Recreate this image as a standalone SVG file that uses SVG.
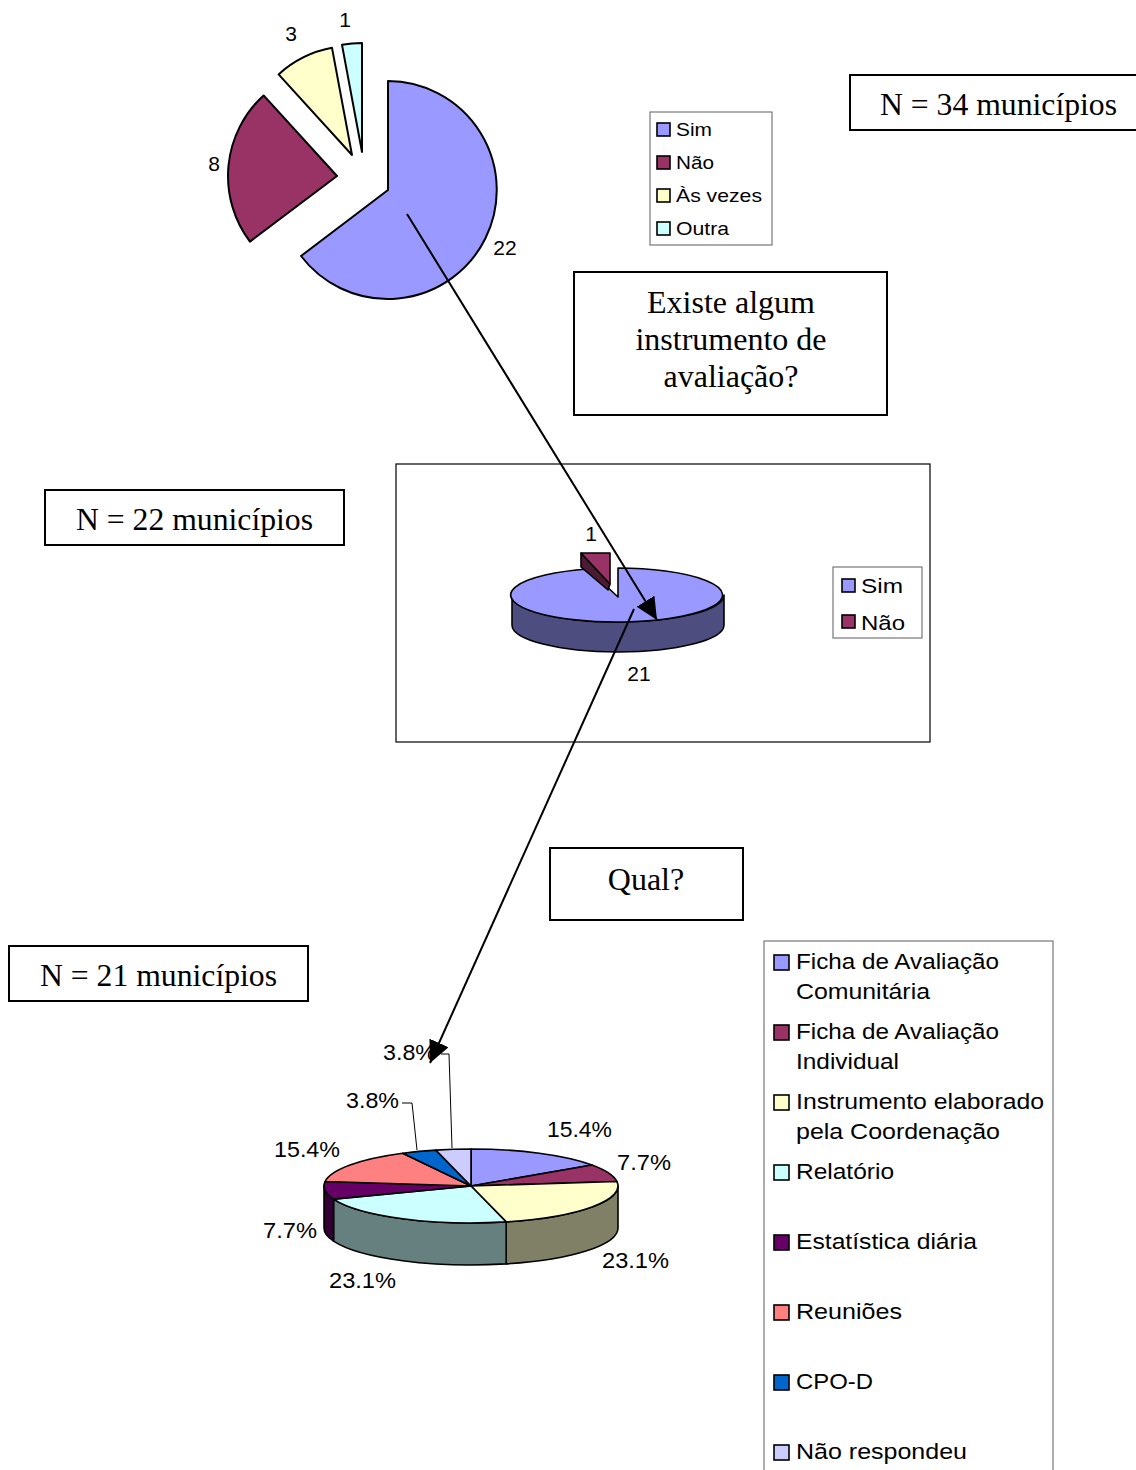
<svg xmlns="http://www.w3.org/2000/svg" width="1136" height="1470" viewBox="0 0 1136 1470">
<style>
.sans{font-family:"Liberation Sans",Arial,sans-serif;fill:#000}
.serif{font-family:"Liberation Serif","Times New Roman",serif;fill:#000;font-size:32px}
.box{fill:#fff;stroke:#000;stroke-width:2}
.leg{fill:#fff;stroke:#777;stroke-width:1.2}
.sq{stroke:#000;stroke-width:1.6}
.sl{stroke:#000;stroke-width:2;stroke-linejoin:round}
.sl3{stroke:#000;stroke-width:1.6;stroke-linejoin:round}
.conn{stroke:#000;stroke-width:2;fill:none}
.lead{stroke:#000;stroke-width:1;fill:none}
</style>
<defs>
<marker id="ah" markerUnits="userSpaceOnUse" markerWidth="23" markerHeight="21" refX="22" refY="10.5" orient="auto">
<path d="M0,0 L22,10.5 L0,21 Z" fill="#000"/>
</marker>
</defs>
<rect width="1136" height="1470" fill="#fff"/>

<!-- Top pie chart -->
<g id="pie-top">
<path class="sl" fill="#9999FF" d="M388,190 L388,81 A109,109 0 1 1 301,256 Z"/>
<path class="sl" fill="#993366" d="M337,176 L249.95,241.6 A109,109 0 0 1 263.6,95.45 Z"/>
<path class="sl" fill="#FFFFCC" d="M352,155 L278.6,74.45 A109,109 0 0 1 332,47.85 Z"/>
<path class="sl" fill="#CCFFFF" d="M362,152 L342,44.85 A109,109 0 0 1 362,43 Z"/>
<text class="sans" font-size="21" x="345" y="27" text-anchor="middle">1</text>
<text class="sans" font-size="21" x="291" y="41" text-anchor="middle">3</text>
<text class="sans" font-size="21" x="214" y="171" text-anchor="middle">8</text>
<text class="sans" font-size="21" x="505" y="255" text-anchor="middle">22</text>
</g>

<g id="legend-top">
<rect class="leg" x="650" y="112" width="122" height="133"/>
<rect class="sq" x="657" y="123" width="13" height="13" fill="#9999FF"/>
<rect class="sq" x="657" y="156" width="13" height="13" fill="#993366"/>
<rect class="sq" x="657" y="189" width="13" height="13" fill="#FFFFCC"/>
<rect class="sq" x="657" y="222" width="13" height="13" fill="#CCFFFF"/>
<text class="sans" font-size="19" x="676" y="136" textLength="36" lengthAdjust="spacingAndGlyphs">Sim</text>
<text class="sans" font-size="19" x="676" y="169" textLength="38" lengthAdjust="spacingAndGlyphs">Não</text>
<text class="sans" font-size="19" x="676" y="202" textLength="86" lengthAdjust="spacingAndGlyphs">Às vezes</text>
<text class="sans" font-size="19" x="676" y="235" textLength="53" lengthAdjust="spacingAndGlyphs">Outra</text>
</g>

<g id="box-n34">
<rect class="box" x="850" y="75" width="300" height="55"/>
<text class="serif" x="880" y="115" textLength="237" lengthAdjust="spacingAndGlyphs">N = 34 municípios</text>
</g>

<g id="box-question1">
<rect class="box" x="574" y="272" width="313" height="143"/>
<text class="serif" x="731" y="313" text-anchor="middle">Existe algum</text>
<text class="serif" x="731" y="350" text-anchor="middle">instrumento de</text>
<text class="serif" x="731" y="387" text-anchor="middle">avaliação?</text>
</g>

<g id="box-n22">
<rect class="box" x="45" y="490" width="299" height="55"/>
<text class="serif" x="194.5" y="530" text-anchor="middle" textLength="237" lengthAdjust="spacingAndGlyphs">N = 22 municípios</text>
</g>

<!-- Middle chart -->
<g id="chart-middle">
<rect x="396" y="464" width="534" height="278" fill="#fff" stroke="#000" stroke-width="1.2"/>
<path class="sl3" fill="#4D4D80" d="M724,595 A106,27 0 0 1 512,595 L512,625 A106,27 0 0 0 724,625 Z"/>
<path class="sl3" fill="#9999FF" d="M618,597 L618,568 A106,27 0 1 1 588,569 Z"/>
<path class="sl3" fill="#4D1A33" d="M581,553 L581,567 L608,590 L610,584 Z"/>
<path class="sl3" fill="#993366" d="M610,584 L610,553 L581,553 Z"/>
<text class="sans" font-size="21" x="591" y="541" text-anchor="middle">1</text>
<text class="sans" font-size="21" x="639" y="681" text-anchor="middle">21</text>
</g>

<g id="legend-middle">
<rect class="leg" x="833" y="567" width="89" height="71"/>
<rect class="sq" x="842" y="579" width="13" height="13" fill="#9999FF"/>
<rect class="sq" x="842" y="615" width="13" height="13" fill="#993366"/>
<text class="sans" font-size="21" x="861" y="593" textLength="42" lengthAdjust="spacingAndGlyphs">Sim</text>
<text class="sans" font-size="21" x="861" y="630" textLength="44" lengthAdjust="spacingAndGlyphs">Não</text>
</g>

<g id="box-qual">
<rect class="box" x="550" y="848" width="193" height="72"/>
<text class="serif" x="646" y="890" text-anchor="middle">Qual?</text>
</g>

<g id="box-n21">
<rect class="box" x="9" y="946" width="299" height="55"/>
<text class="serif" x="158.5" y="986" text-anchor="middle" textLength="237" lengthAdjust="spacingAndGlyphs">N = 21 municípios</text>
</g>

<!-- Bottom 3D pie -->
<g id="pie-bottom">
<path class="sl3" fill="#808066" d="M618,1186 A147,37 0 0 1 506.18,1221.92 L506.18,1263.92 A147,37 0 0 0 618,1228 Z"/>
<path class="sl3" fill="#668080" d="M506.18,1221.92 A147,37 0 0 1 333.55,1199.12 L333.55,1241.12 A147,37 0 0 0 506.18,1263.92 Z"/>
<path class="sl3" fill="#330033" d="M333.55,1199.12 A147,37 0 0 1 324,1186 L324,1228 A147,37 0 0 0 333.55,1241.12 Z"/>
<path class="sl3" fill="#9999FF" d="M471,1186 L471,1149 A147,37 0 0 1 591.98,1164.98 Z"/>
<path class="sl3" fill="#993366" d="M471,1186 L591.98,1164.98 A147,37 0 0 1 616.93,1181.54 Z"/>
<path class="sl3" fill="#FFFFCC" d="M471,1186 L616.93,1181.54 A147,37 0 0 1 506.18,1221.92 Z"/>
<path class="sl3" fill="#CCFFFF" d="M471,1186 L506.18,1221.92 A147,37 0 0 1 333.55,1199.12 Z"/>
<path class="sl3" fill="#660066" d="M471,1186 L333.55,1199.12 A147,37 0 0 1 325.07,1181.54 Z"/>
<path class="sl3" fill="#FF8080" d="M471,1186 L325.07,1181.54 A147,37 0 0 1 402.69,1153.24 Z"/>
<path class="sl3" fill="#0066CC" d="M471,1186 L402.69,1153.24 A147,37 0 0 1 435.82,1150.08 Z"/>
<path class="sl3" fill="#CCCCFF" d="M471,1186 L435.82,1150.08 A147,37 0 0 1 471,1149 Z"/>
<path class="lead" d="M402,1103 H412 L417,1150"/>
<path class="lead" d="M441,1054 H449 L452,1148"/>
<text class="sans" font-size="22" x="547" y="1137" textLength="65" lengthAdjust="spacingAndGlyphs">15.4%</text>
<text class="sans" font-size="22" x="617" y="1170" textLength="54" lengthAdjust="spacingAndGlyphs">7.7%</text>
<text class="sans" font-size="22" x="602" y="1268" textLength="67" lengthAdjust="spacingAndGlyphs">23.1%</text>
<text class="sans" font-size="22" x="329" y="1288" textLength="67" lengthAdjust="spacingAndGlyphs">23.1%</text>
<text class="sans" font-size="22" x="263" y="1238" textLength="54" lengthAdjust="spacingAndGlyphs">7.7%</text>
<text class="sans" font-size="22" x="274" y="1157" textLength="66" lengthAdjust="spacingAndGlyphs">15.4%</text>
<text class="sans" font-size="22" x="346" y="1108" textLength="53" lengthAdjust="spacingAndGlyphs">3.8%</text>
<text class="sans" font-size="22" x="383" y="1060" textLength="53" lengthAdjust="spacingAndGlyphs">3.8%</text>
</g>

<g id="legend-bottom">
<rect class="leg" x="764" y="941" width="289" height="540"/>
<rect class="sq" x="774" y="955" width="15" height="15" fill="#9999FF"/>
<rect class="sq" x="774" y="1025" width="15" height="15" fill="#993366"/>
<rect class="sq" x="774" y="1095" width="15" height="15" fill="#FFFFCC"/>
<rect class="sq" x="774" y="1165" width="15" height="15" fill="#CCFFFF"/>
<rect class="sq" x="774" y="1235" width="15" height="15" fill="#660066"/>
<rect class="sq" x="774" y="1305" width="15" height="15" fill="#FF8080"/>
<rect class="sq" x="774" y="1375" width="15" height="15" fill="#0066CC"/>
<rect class="sq" x="774" y="1445" width="15" height="15" fill="#CCCCFF"/>
<text class="sans" font-size="22" x="796" y="969" textLength="203" lengthAdjust="spacingAndGlyphs">Ficha de Avaliação</text>
<text class="sans" font-size="22" x="796" y="999" textLength="134" lengthAdjust="spacingAndGlyphs">Comunitária</text>
<text class="sans" font-size="22" x="796" y="1039" textLength="203" lengthAdjust="spacingAndGlyphs">Ficha de Avaliação</text>
<text class="sans" font-size="22" x="796" y="1069" textLength="103" lengthAdjust="spacingAndGlyphs">Individual</text>
<text class="sans" font-size="22" x="796" y="1109" textLength="248" lengthAdjust="spacingAndGlyphs">Instrumento elaborado</text>
<text class="sans" font-size="22" x="796" y="1139" textLength="204" lengthAdjust="spacingAndGlyphs">pela Coordenação</text>
<text class="sans" font-size="22" x="796" y="1179" textLength="98" lengthAdjust="spacingAndGlyphs">Relatório</text>
<text class="sans" font-size="22" x="796" y="1249" textLength="181" lengthAdjust="spacingAndGlyphs">Estatística diária</text>
<text class="sans" font-size="22" x="796" y="1319" textLength="106" lengthAdjust="spacingAndGlyphs">Reuniões</text>
<text class="sans" font-size="22" x="796" y="1389" textLength="77" lengthAdjust="spacingAndGlyphs">CPO-D</text>
<text class="sans" font-size="22" x="796" y="1459" textLength="171" lengthAdjust="spacingAndGlyphs">Não respondeu</text>
</g>

<g id="connectors">
<line class="conn" x1="407" y1="214" x2="657" y2="620" marker-end="url(#ah)"/>
<line class="conn" x1="634" y1="609" x2="430" y2="1063" marker-end="url(#ah)"/>
</g>
</svg>
